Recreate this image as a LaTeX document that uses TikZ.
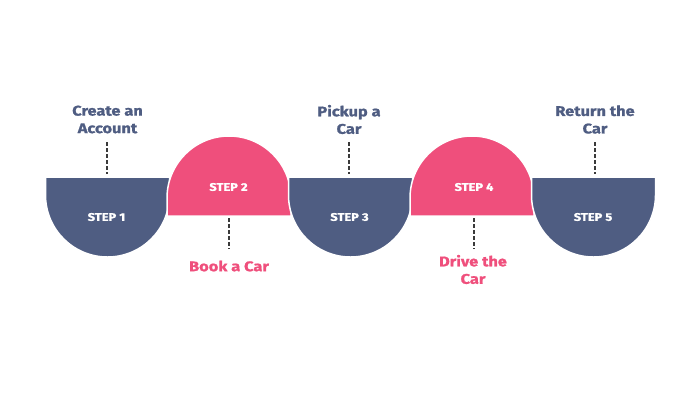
\documentclass[tikz,border=0pt]{standalone}
\usepackage{fontspec}
\setmainfont{Fira Sans}[FakeStretch=1.17, BoldFeatures={FakeBold=1.2}]
\definecolor{stepblue}{HTML}{4F5D82}
\definecolor{steppink}{HTML}{EF4F7C}
\definecolor{dashgray}{HTML}{3A3A3A}
\tikzset{
  bluebox/.style={fill=stepblue, draw=white, line width=1.5pt},
  pinkbox/.style={fill=steppink, draw=white, line width=1.5pt},
  steptext/.style={text=white, font=\bfseries\fontsize{11}{13}\selectfont, inner sep=0pt},
  bluelabel/.style={text=stepblue, font=\bfseries\fontsize{14}{17.5}\selectfont, align=center, inner sep=0pt},
  pinklabel/.style={text=steppink, font=\bfseries\fontsize{14}{17.5}\selectfont, align=center, inner sep=0pt},
  dashline/.style={draw=dashgray, line width=2pt, dash pattern=on 3.5pt off 2.5pt}
}
\begin{document}
\begin{tikzpicture}[x=1pt,y=-1pt]
\useasboundingbox (0,0) rectangle (700,400);
% shapes
\def\R{62}
\foreach \cx/\kind in {107.5/b, 229/p, 350.5/b, 472/p, 593.5/b}{
  \if b\kind
    \path[bluebox] (\cx-\R,177) -- (\cx+\R,177) -- (\cx+\R,195) arc[start angle=0, end angle=180, radius=\R] -- cycle;
  \else
    \path[pinkbox] (\cx-\R,216) -- (\cx+\R,216) -- (\cx+\R,198) arc[start angle=0, end angle=-180, radius=\R] -- cycle;
  \fi
}
% step texts
\node[steptext] (s1) at (106.5,217) {STEP 1};
\node[steptext] (s2) at (228.5,187) {STEP 2};
\node[steptext] (s3) at (349.5,217) {STEP 3};
\node[steptext] (s4) at (474,187) {STEP 4};
\node[steptext] (s5) at (593,217) {STEP 5};
% labels
\node[bluelabel] (l1) at (107.5,119.5) {Create an\\Account};
\node[bluelabel] (l3) at (349,119.5) {Pickup a\\Car};
\node[bluelabel] (l5) at (595,119.5) {Return the\\Car};
\node[pinklabel] (l2) at (229,266) {Book a Car};
\node[pinklabel] (l4) at (473,269.5) {Drive the\\Car};
% dashed connector ends
\coordinate (a1) at (107,142); \coordinate (b1) at (107,174);
\coordinate (a3) at (349,142); \coordinate (b3) at (349,174);
\coordinate (a5) at (595,142); \coordinate (b5) at (595,174);
\coordinate (a2) at (229,218); \coordinate (b2) at (229,249);
\coordinate (a4) at (474,218); \coordinate (b4) at (474,249);
\draw[dashline] (a1) -- (b1);
\draw[dashline] (a3) -- (b3);
\draw[dashline] (a5) -- (b5);
\draw[dashline] (a2) -- (b2);
\draw[dashline] (a4) -- (b4);
\end{tikzpicture}
\end{document}
